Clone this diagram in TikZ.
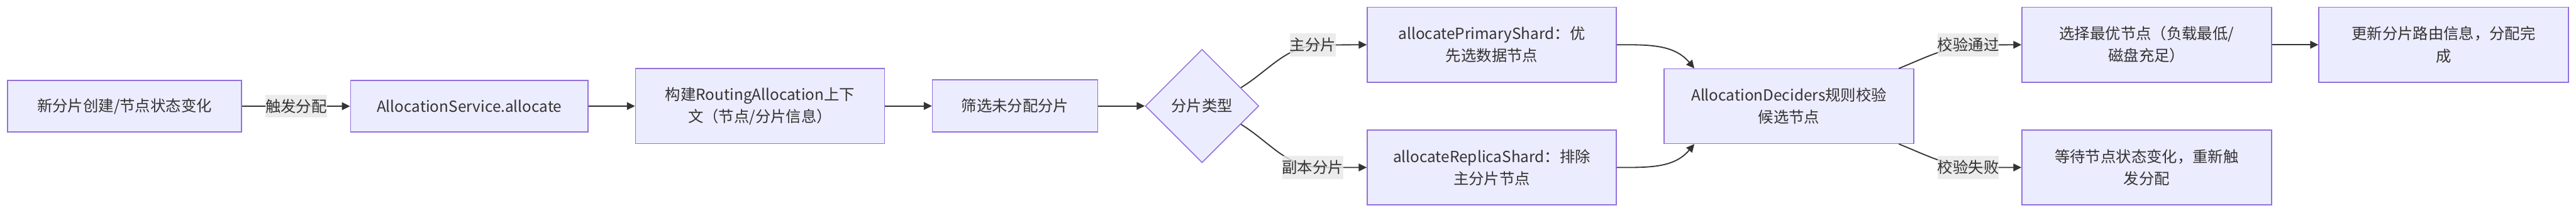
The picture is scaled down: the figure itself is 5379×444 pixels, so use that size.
\documentclass[tikz,border=0pt]{standalone}
\usepackage{fontspec}
\setmainfont{Noto Sans CJK SC}
\usetikzlibrary{shapes.geometric,arrows.meta,calc}
\definecolor{nodefill}{HTML}{ECECFF}
\definecolor{nodeline}{HTML}{9370DB}
\definecolor{edgecol}{HTML}{333333}
\definecolor{lblfill}{HTML}{E8E8E8}
\definecolor{txt}{HTML}{333333}
\begin{document}
\begin{tikzpicture}[x=0.5pt,y=-0.5pt,
  box/.style={draw=nodeline,fill=nodefill,line width=1pt,align=center,text=txt,
    font=\fontsize{16pt}{23pt}\selectfont,inner sep=0pt},
  decide/.style={diamond,aspect=1,draw=nodeline,fill=nodefill,line width=1pt,text=txt,
    font=\fontsize{16pt}{23pt}\selectfont,inner sep=0pt,minimum width=118.5pt,minimum height=118.5pt},
  edge/.style={draw=edgecol,line width=1.2pt,-{Triangle[length=8.5pt,width=8pt]}},
  elabel/.style={fill=lblfill,fill opacity=0.8,text opacity=1,text=txt,
    font=\fontsize{16pt}{23pt}\selectfont,inner xsep=0pt,inner ysep=0pt,minimum height=24pt}
]
\fill[white] (0,0) rectangle (5379,444);
\useasboundingbox (0,0) rectangle (5379,444);

% nodes
\node[box,minimum width=244pt,minimum height=54pt] (A) at (260,222) {新分片创建/节点状态变化};
\node[box,minimum width=248pt,minimum height=54pt] (B) at (980,222) {AllocationService.allocate};
\node[box,minimum width=260pt,minimum height=78.5pt] (C) at (1587,221.5) {构建RoutingAllocation上下\\文（节点/分片信息）};
\node[box,minimum width=172.5pt,minimum height=54.5pt] (D) at (2119.5,221.5) {筛选未分配分片};
\node[decide] (dia) at (2510,221.5) {分片类型};
\node[box,minimum width=260pt,minimum height=78.5pt] (E) at (3115,93.5) {allocatePrimaryShard：优\\先选数据节点};
\node[box,minimum width=260pt,minimum height=78pt] (F) at (3115,350) {allocateReplicaShard：排除\\主分片节点};
\node[box,minimum width=260.5pt,minimum height=78pt] (G) at (3735.5,222) {AllocationDeciders规则校验\\候选节点};
\node[box,minimum width=260.5pt,minimum height=78.5pt] (H) at (4482.5,93.5) {选择最优节点（负载最低/\\磁盘充足）};
\node[box,minimum width=260.5pt,minimum height=78.5pt] (I) at (5102.5,93.5) {更新分片路由信息，分配完\\成};
\node[box,minimum width=260.5pt,minimum height=78pt] (J) at (4482.5,350) {等待节点状态变化，重新触\\发分配};

% label positions
\coordinate (l0) at (618.5,222);
\coordinate (l1) at (2741,94);
\coordinate (l2) at (2741,350);
\coordinate (l3) at (4110,94);
\coordinate (l4) at (4110,350);

% edges
\draw[edge] (A) -- (B);
\draw[edge] (B) -- (C);
\draw[edge] (C) -- (D);
\draw[edge] (D) -- (dia);
\draw[edge] ($(dia.north)!0.68!(dia.east)$) to[out=32,in=180] ($(l1)+(20,0)$) -- (E.west);
\draw[edge] ($(dia.south)!0.68!(dia.east)$) to[out=-32,in=180] ($(l2)+(20,0)$) -- (F.west);
\draw[edge] (E.east) to[out=0,in=130] ($(G.north west)+(64,0)$);
\draw[edge] (F.east) to[out=0,in=-130] ($(G.south west)+(64,0)$);
\draw[edge] ($(G.north east)+(-32,0)$) to[out=22,in=180] ($(l3)+(30,0)$) -- (H.west);
\draw[edge] ($(G.south east)+(-32,0)$) to[out=-22,in=180] ($(l4)+(30,0)$) -- (J.west);
\draw[edge] (H) -- (I);

% edge labels
\node[elabel] (t0) at (l0) {触发分配};
\node[elabel] (t1) at (l1) {主分片};
\node[elabel] (t2) at (l2) {副本分片};
\node[elabel] (t3) at (l3) {校验通过};
\node[elabel] (t4) at (l4) {校验失败};
\end{tikzpicture}
\end{document}
